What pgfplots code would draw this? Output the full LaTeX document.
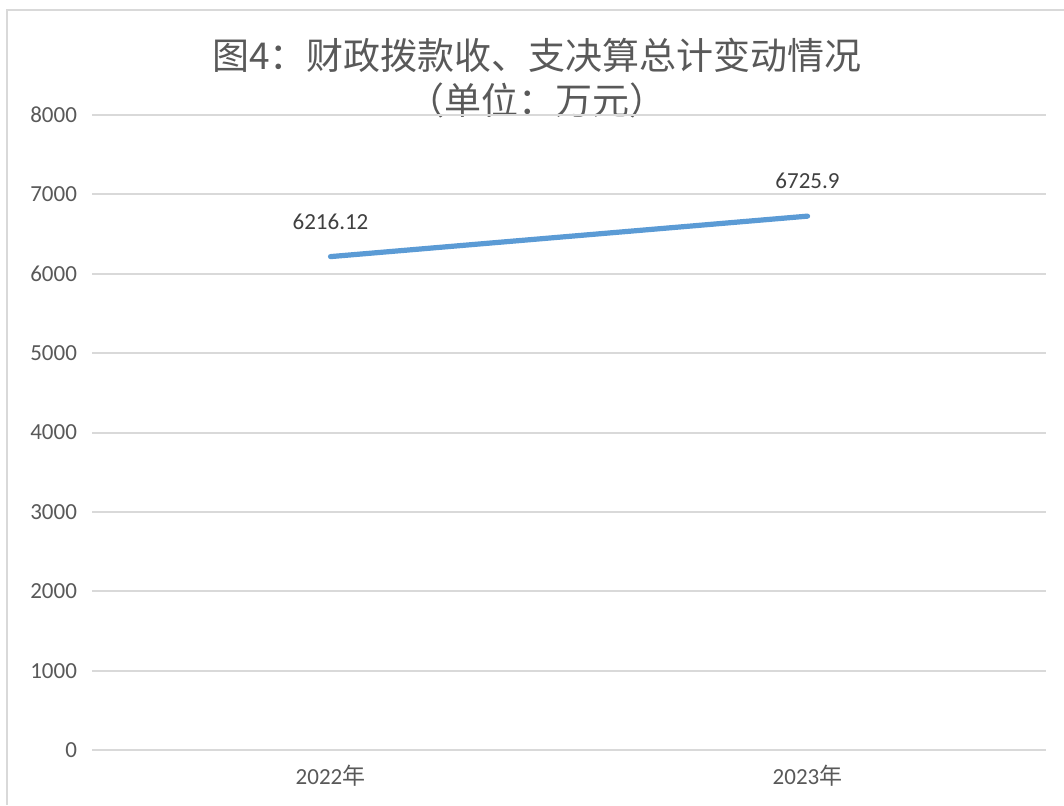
\documentclass[border=0pt]{standalone}
\usepackage{pgfplots}
\pgfplotsset{compat=1.18}
\usepackage{fontspec}
\setmainfont{Carlito}
\newfontfamily\cjk{Noto Sans CJK SC}
\definecolor{txt}{HTML}{595959}
\definecolor{gridc}{HTML}{D9D9D9}
\definecolor{linec}{HTML}{5B9BD5}
\begin{document}
\begin{tikzpicture}
\useasboundingbox (0,0) rectangle (532pt,402.5pt);
\fill[white] (0,0) rectangle (532pt,402.5pt);
\draw[gridc, line width=1pt] (3.5pt,0) -- (3.5pt,397.5pt) -- (532pt,397.5pt);
\node[txt, font=\cjk\fontsize{18.5pt}{22pt}\selectfont] at (268.5pt,375pt) {图4：财政拨款收、支决算总计变动情况};
\node[txt, font=\cjk\fontsize{18.5pt}{22pt}\selectfont] at (268.5pt,352.5pt) {（单位：万元）};
\begin{axis}[
  at={(46pt,27.5pt)}, anchor=south west,
  scale only axis, width=477pt, height=317.5pt,
  xmin=0, xmax=2, ymin=0, ymax=8000,
  xtick={0.5,1.5}, xticklabels={2022{\cjk 年},2023{\cjk 年}},
  ytick={0,1000,...,8000},
  axis line style={draw=none},
  major tick length=0pt,
  ymajorgrids=true, xmajorgrids=false,
  y grid style={draw=gridc, line width=1pt},
  clip=false,
  /pgf/number format/assume math mode=true,
  scaled y ticks=false,
  yticklabel style={/pgf/number format/fixed, /pgf/number format/1000 sep={}, font=\fontsize{11.5pt}{13pt}\selectfont, text=txt, xshift=-4pt},
  xticklabel style={font=\fontsize{11.5pt}{13pt}\selectfont, text=txt, yshift=-4pt},
  nodes near coords,
  point meta=explicit symbolic,
  every node near coord/.append style={font=\fontsize{11.5pt}{13pt}\selectfont, text=black!75, yshift=9pt},
]
\addplot[draw=linec, line width=2.6pt, line cap=round, mark=none] coordinates {(0.5,6216.12) [6216.12] (1.5,6725.9) [6725.9]};
\end{axis}
\end{tikzpicture}
\end{document}
